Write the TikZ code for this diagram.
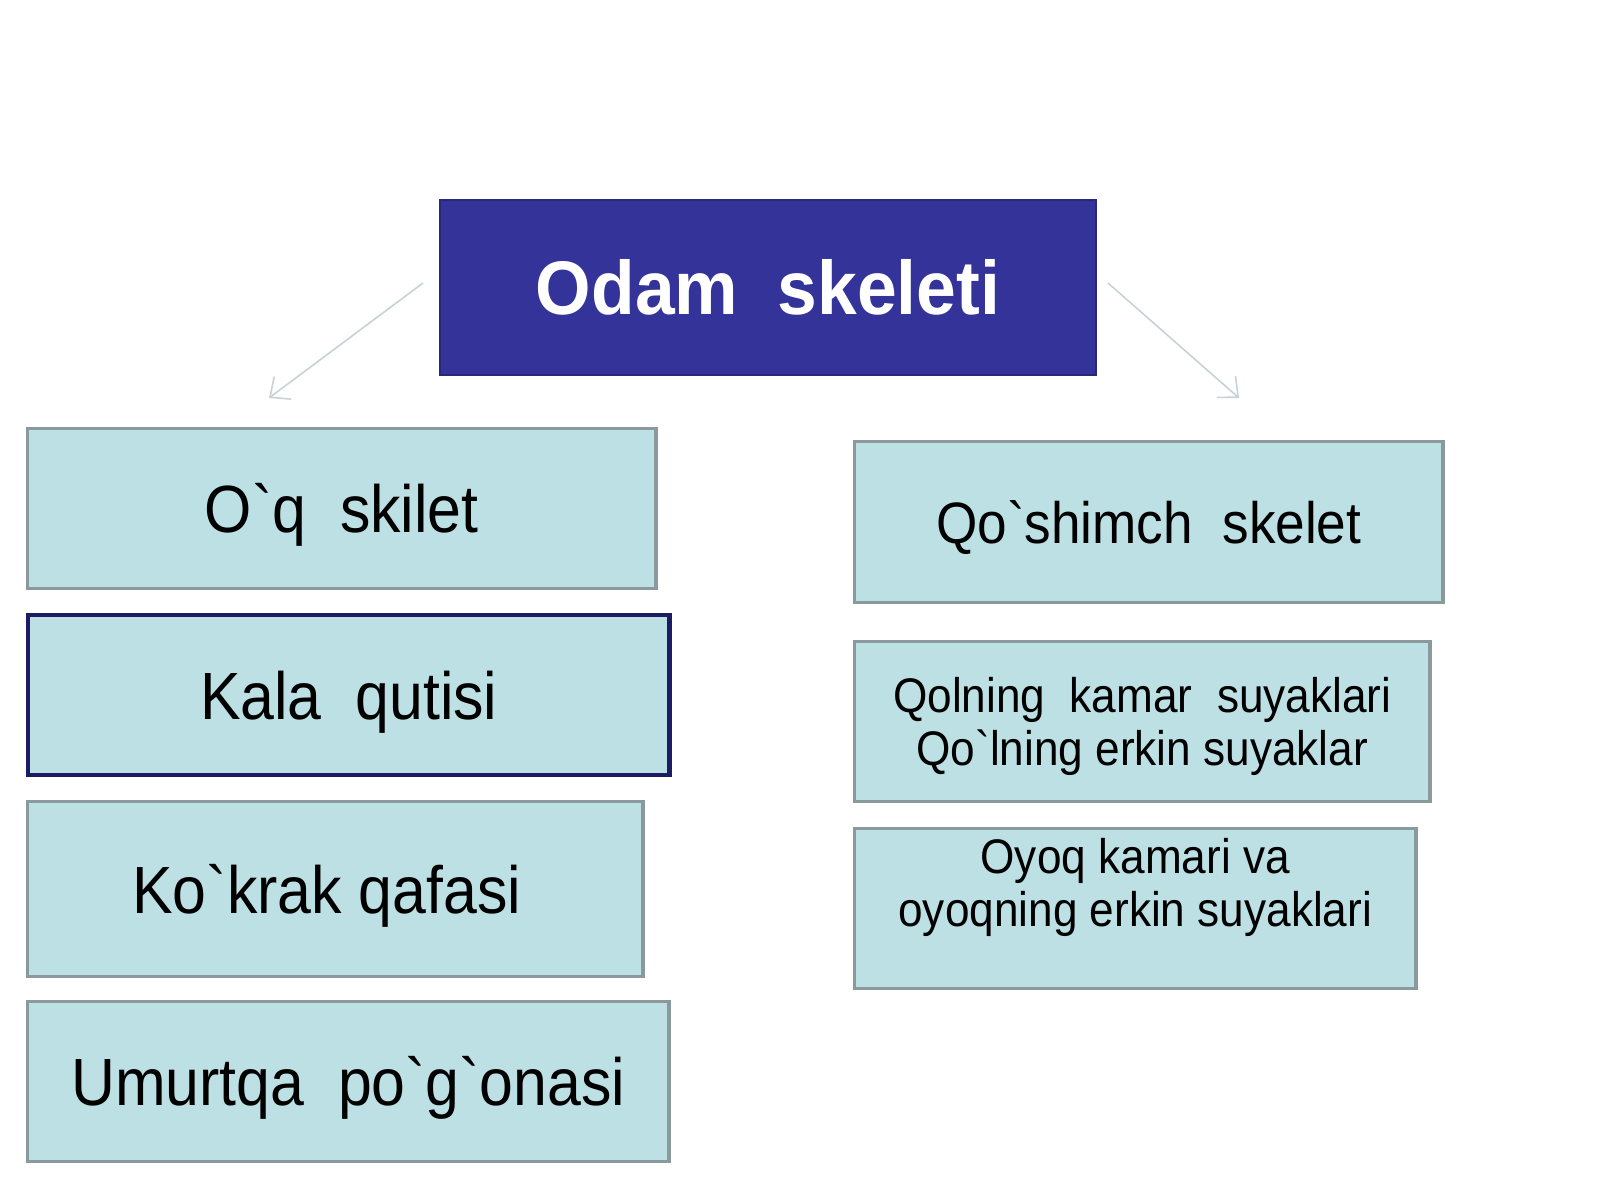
\documentclass[tikz,border=0pt]{standalone}
\usepackage{fontspec}
\usetikzlibrary{arrows.meta}
\newfontfamily\lsans[FakeStretch=0.91]{Liberation Sans}
\newfontfamily\lsanstitle[FakeStretch=0.94]{Liberation Sans}
\definecolor{titleblue}{RGB}{51,51,153}
\definecolor{titleedge}{RGB}{40,40,120}
\definecolor{boxfill}{RGB}{188,224,227}
\definecolor{boxgray}{RGB}{138,154,156}
\definecolor{navyedge}{RGB}{28,28,100}
\definecolor{arrowcol}{RGB}{196,212,214}
\tikzset{
  lbox/.style={draw=boxgray, line width=0.9pt, fill=boxfill, inner sep=0pt, anchor=north west,
    font=\lsans\fontsize{19}{22}\selectfont, text height=13.6pt, text depth=0pt, text=black},
  rbox/.style={lbox, align=center, font=\lsans\fontsize{13.8}{15.1}\selectfont, text height=25pt},
  conn/.style={draw=arrowcol, line width=0.45pt, -{Straight Barb[length=4.5pt,width=8pt]}},
}
\begin{document}
\begin{tikzpicture}[x=0.01cm, y=-0.01cm]
\useasboundingbox (0,0) rectangle (1600,1200);
\fill[white] (0,0) rectangle (1600,1200);
% title
\node[draw=titleedge, line width=0.5pt, fill=titleblue, inner sep=0pt, anchor=north west,
  minimum width=6.56cm, minimum height=1.75cm, text=white,
  font=\lsanstitle\bfseries\fontsize{21.6}{25}\selectfont, text height=15.5pt, text depth=0pt]
  (title) at (439,199) {Odam\ \ skeleti};
% left column
\node[lbox, minimum width=6.28cm, minimum height=1.60cm] (oq) at (26,427) {O`q\ \ skilet};
\node[lbox, draw=navyedge, line width=1.2pt, minimum width=6.41cm, minimum height=1.60cm] (kala) at (26,613) {Kala\ \ qutisi};
\node[lbox, minimum width=6.15cm, minimum height=1.75cm] (kokrak) at (26,800) {Ko`krak qafasi\kern0.17cm};
\node[lbox, minimum width=6.41cm, minimum height=1.60cm] (umurtqa) at (26,1000) {Umurtqa\ \ po`g`onasi};
% right column
\node[lbox, font=\lsans\fontsize{16.6}{19}\selectfont, text height=11.9pt,
  minimum width=5.88cm, minimum height=1.61cm] (qoshimch) at (853,440) {Qo`shimch\ \ skelet};
\node[rbox, minimum width=5.75cm, minimum height=1.60cm] (qol) at (853,640)
  {Qolning\ \ kamar\ \ suyaklari\\Qo`lning erkin suyaklar};
\node[rbox, text depth=14.8pt, minimum width=5.61cm, minimum height=1.60cm] (oyoq) at (853,827)
  {Oyoq kamari va\\oyoqning erkin suyaklari};
% connectors
\coordinate (ls) at (423,283);
\coordinate (le) at (269,398);
\coordinate (rs) at (1108,283);
\coordinate (re) at (1239,398);
\draw[conn] (ls) -- (le);
\draw[conn] (rs) -- (re);
\end{tikzpicture}
\end{document}
